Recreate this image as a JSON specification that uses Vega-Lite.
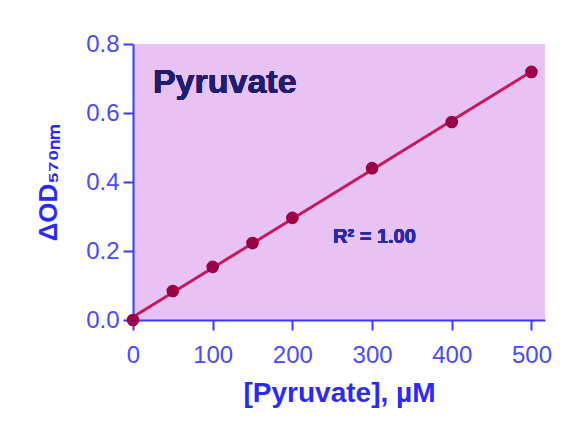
{
  "$schema": "https://vega.github.io/schema/vega-lite/v6.json",
  "width": 412,
  "height": 276,
  "autosize": {"type": "none"},
  "padding": {"left": 133, "top": 44, "right": 18, "bottom": 105},
  "background": "white",
  "config": {
    "view": {"fill": "#e8c2f2", "stroke": null},
    "axis": {
      "domainColor": "#3b3bff",
      "domainWidth": 2,
      "tickColor": "#3b3bff",
      "tickWidth": 2,
      "tickSize": 10,
      "labelColor": "#4a4aff",
      "labelFont": "Liberation Sans",
      "labelFontSize": 24,
      "labelFlush": false,
      "titleColor": "#2a2aff",
      "titleFont": "Liberation Sans",
      "titleFontWeight": "bold",
      "grid": false
    }
  },
  "datasets": {
    "points": [
      {"conc": 0, "od": 0.0},
      {"conc": 50, "od": 0.084},
      {"conc": 100, "od": 0.154},
      {"conc": 150, "od": 0.223},
      {"conc": 200, "od": 0.296},
      {"conc": 300, "od": 0.44},
      {"conc": 400, "od": 0.574},
      {"conc": 500, "od": 0.719}
    ]
  },
  "data": {"name": "points"},
  "layer": [
    {
      "transform": [{"regression": "od", "on": "conc", "extent": [0, 500]}],
      "mark": {"type": "line", "color": "#c8185c", "strokeWidth": 3},
      "encoding": {
        "x": {
          "field": "conc", "type": "quantitative",
          "scale": {"domain": [0, 517], "nice": false},
          "axis": {
            "values": [0, 100, 200, 300, 400, 500],
            "title": "[Pyruvate], µM",
            "titleFontSize": 28,
            "titlePadding": 12,
            "labelPadding": 13
          }
        },
        "y": {
          "field": "od", "type": "quantitative",
          "scale": {"domain": [0, 0.8], "nice": false},
          "axis": {
            "values": [0, 0.2, 0.4, 0.6, 0.8],
            "format": ".1f",
            "title": "ΔOD₅₇₀ₙₘ",
            "titleFontSize": 26,
            "titlePadding": 24,
            "labelPadding": 4
          }
        }
      }
    },
    {
      "mark": {"type": "point", "filled": true, "color": "#9c0046", "size": 160, "opacity": 1},
      "encoding": {
        "x": {"field": "conc", "type": "quantitative"},
        "y": {"field": "od", "type": "quantitative"}
      }
    },
    {
      "mark": {"type": "text", "text": "Pyruvate", "font": "Liberation Sans", "fontWeight": "bold", "fontSize": 34, "color": "#1e1e70", "align": "left", "baseline": "middle"},
      "encoding": {
        "x": {"datum": 25},
        "y": {"datum": 0.688}
      }
    },
    {
      "mark": {"type": "text", "text": "R² = 1.00", "font": "Liberation Sans", "fontWeight": "bold", "fontSize": 20, "color": "#2a2aa8", "align": "left", "baseline": "middle"},
      "encoding": {
        "x": {"datum": 251},
        "y": {"datum": 0.24}
      }
    }
  ]
}
